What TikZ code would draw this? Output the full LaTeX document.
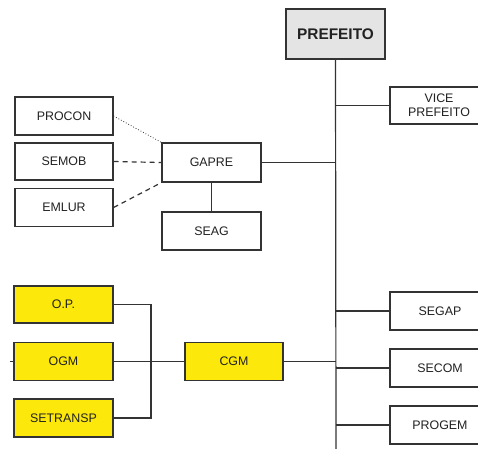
\documentclass[tikz,border=0pt]{standalone}
\usepackage{fontspec}
\setmainfont{Liberation Sans}
\definecolor{edge}{HTML}{333333}
\definecolor{txt}{HTML}{222222}
\definecolor{boss}{HTML}{E4E4E4}
\definecolor{hl}{HTML}{FCE80A}
\begin{document}
\begin{tikzpicture}[x=1pt,y=-1pt,
  box/.style={draw=edge, line width=1.2pt, fill=white, minimum width=98pt, minimum height=38pt,
    inner sep=1pt, text=txt, font=\fontsize{12.4}{14}\selectfont, align=center},
  hlbox/.style={box, fill=hl},
  link/.style={draw=edge, line width=1.2pt},
]
\useasboundingbox (0,0) rectangle (478,448);
\node[box, fill=boss, minimum width=99pt, minimum height=50pt, font=\fontsize{15.4}{16}\selectfont\bfseries] (pref) at (335.5,34) {PREFEITO};
\node[box, minimum height=37pt] (vice) at (439,105.5) {VICE\\PREFEITO};
\node[box] (procon) at (64,116) {PROCON};
\node[box, minimum height=37pt] (semob) at (64,161.5) {SEMOB};
\node[box] (emlur) at (64,207.5) {EMLUR};
\node[box, minimum width=99pt, minimum height=39pt] (gapre) at (211.5,162.5) {GAPRE};
\node[box, minimum width=99pt] (seag) at (211.5,231) {SEAG};
\node[hlbox, minimum width=99pt, minimum height=37pt] (op) at (63.5,304.5) {O.P.};
\node[hlbox, minimum width=99pt] (ogm) at (63.5,361.5) {OGM};
\node[hlbox, minimum width=99pt] (setransp) at (63.5,418) {SETRANSP};
\node[hlbox] (cgm) at (234,361.5) {CGM};
\node[box, minimum width=100pt] (segap) at (440,311) {SEGAP};
\node[box, minimum width=100pt] (secom) at (440,368) {SECOM};
\node[box, minimum width=100pt] (progem) at (440,425) {PROGEM};
\coordinate (trunkend) at (336,450);
\coordinate (bx) at (151,0);
\coordinate (tick) at (10,361.5);
% trunk
\draw[link] (pref.south) -- (trunkend);
\draw[link] (vice.west) -- (vice.west -| pref.south);
\draw[link] (gapre.east) -- (gapre.east -| pref.south);
\draw[link] (cgm.east) -- (cgm.east -| pref.south);
\draw[link] (segap.west) -- (segap.west -| pref.south);
\draw[link] (secom.west) -- (secom.west -| pref.south);
\draw[link] (progem.west) -- (progem.west -| pref.south);
% GAPRE group
\draw[link] (gapre.south) -- (seag.north);
\draw[draw=edge, line width=0.8pt, dotted] (procon.east) -- (gapre.north west);
\draw[link, dash pattern=on 5pt off 4pt] (semob.east) -- (gapre.west);
\draw[link, dash pattern=on 5pt off 4pt] (emlur.east) -- (gapre.south west);
% CGM group
\draw[link] (op.east) -| (bx |- setransp.east) -- (setransp.east);
\draw[link] (ogm.east) -- (cgm.west);
\draw[link] (tick) -- (ogm.west);
\end{tikzpicture}
\end{document}
